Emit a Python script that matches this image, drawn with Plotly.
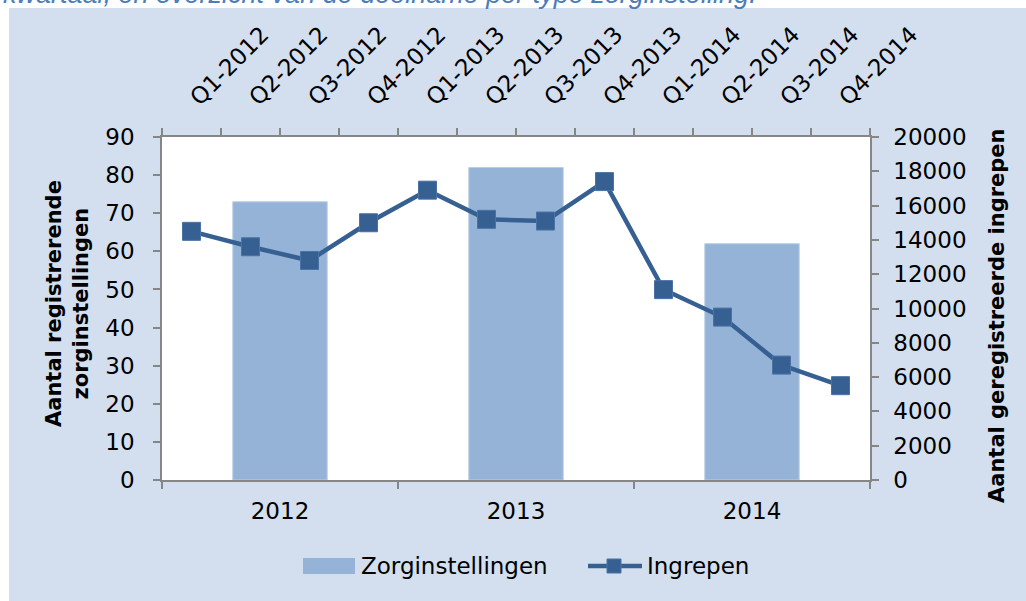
import plotly.graph_objects as go

years = ["2012", "2013", "2014"]
zorginstellingen = [73, 82, 62]

quarters = ["Q1-2012", "Q2-2012", "Q3-2012", "Q4-2012",
            "Q1-2013", "Q2-2013", "Q3-2013", "Q4-2013",
            "Q1-2014", "Q2-2014", "Q3-2014", "Q4-2014"]
ingrepen = [14500, 13600, 12800, 15000, 16900, 15200, 15100, 17400,
            11100, 9500, 6700, 5500]

left_ticks = list(range(0, 91, 10))
right_ticks = list(range(0, 20001, 2000))

FONT = "DejaVu Sans"
AX = "#868686"
PANEL = "#D3DFEE"
BAR = "#95B3D7"
LINE = "#376092"

# plot area in pixels: x 162..870, y 137..480 on a 1026x601 page
W, H = 1026, 601
L, R, T, B = 162, 870, 137, 480
pw, ph = R - L, B - T


def px(x):
    return (x - L) / pw


def py(y):
    return (B - y) / ph


fig = go.Figure()

fig.add_trace(go.Bar(
    x=years, y=zorginstellingen, name="Zorginstellingen",
    marker=dict(color=BAR, line=dict(color="#B9CDE5", width=1)),
    width=0.4, xaxis="x", yaxis="y", showlegend=False,
))

fig.add_trace(go.Scatter(
    x=quarters, y=ingrepen, name="Ingrepen", mode="lines+markers",
    line=dict(color=LINE, width=4.5),
    marker=dict(symbol="square", size=18, color=LINE,
                line=dict(color="#4A72A6", width=1)),
    xaxis="x2", yaxis="y2", showlegend=False,
))

tickfont = dict(family=FONT, size=23, color="#000000")
txtfont = dict(family=FONT, size=23, color="#000000")

# custom legend (wide bar swatch, line-with-marker swatch)
leg_y = 566
shapes = [
    dict(type="rect", xref="paper", yref="paper", layer="below",
         x0=px(9), x1=px(W + 20), y0=py(H + 20), y1=py(8),
         fillcolor=PANEL, line=dict(width=0)),
    dict(type="rect", xref="paper", yref="paper", layer="below",
         x0=0, x1=1, y0=0, y1=1,
         fillcolor="white", line=dict(width=0)),
    dict(type="rect", xref="paper", yref="paper",
         x0=px(303), x1=px(355), y0=py(leg_y + 8), y1=py(leg_y - 8),
         fillcolor=BAR, line=dict(width=0)),
    dict(type="line", xref="paper", yref="paper",
         x0=px(588), x1=px(642), y0=py(leg_y), y1=py(leg_y),
         line=dict(color=LINE, width=4.5)),
    dict(type="rect", xref="paper", yref="paper",
         x0=px(607), x1=px(621), y0=py(leg_y + 7), y1=py(leg_y - 7),
         fillcolor=LINE, line=dict(color="#4A72A6", width=1)),
]

fig.update_layout(
    width=W, height=H,
    margin=dict(l=L, r=W - R, t=T, b=H - B, pad=0),
    paper_bgcolor="white",
    plot_bgcolor="white",
    font=dict(family=FONT, size=23, color="#000000"),
    showlegend=False,
    bargap=0.6,
    xaxis=dict(
        type="category", categoryorder="array", categoryarray=years,
        range=[-0.5, 2.5], showline=True, linecolor=AX, linewidth=1.5,
        ticks="outside", ticklen=7, tickwidth=1.5, tickcolor=AX,
        tickson="boundaries", showgrid=False, zeroline=False,
        tickfont=tickfont, ticklabelstandoff=10,
    ),
    xaxis2=dict(
        type="category", categoryorder="array", categoryarray=quarters,
        overlaying="x", side="top", anchor="y2",
        range=[-0.5, 11.5], showline=True, linecolor=AX, linewidth=1.5,
        ticks="outside", ticklen=7, tickwidth=1.5, tickcolor=AX,
        tickson="boundaries", showgrid=False, zeroline=False,
        tickangle=-45, tickfont=tickfont, ticklabelstandoff=16,
    ),
    yaxis=dict(
        range=[0, 90], tickvals=left_ticks, showline=True, linecolor=AX,
        linewidth=1.5, ticks="outside", ticklen=7, tickwidth=1.5,
        tickcolor=AX, showgrid=False, zeroline=False, tickfont=tickfont,
        ticklabelstandoff=14,
    ),
    yaxis2=dict(
        range=[0, 20000], tickvals=right_ticks, tickformat="d",
        overlaying="y", side="right", anchor="x", showline=True,
        linecolor=AX, linewidth=1.5, ticks="outside", ticklen=7,
        tickwidth=1.5, tickcolor=AX, showgrid=False, zeroline=False,
        tickfont=tickfont, ticklabelstandoff=10,
    ),
    shapes=shapes,
    annotations=[
        dict(text="<i>kwartaal, en overzicht van de deelname per type zorginstelling.</i>",
             xref="paper", yref="paper", x=px(1), y=py(11),
             xanchor="left", yanchor="bottom", showarrow=False,
             font=dict(family="Liberation Sans", size=27, color="#4A7EBB")),
        dict(text="<b>Aantal registrerende<br>zorginstellingen</b>",
             xref="paper", yref="paper", x=px(67), y=py(303),
             xanchor="center", yanchor="middle", textangle=-90,
             showarrow=False,
             font=dict(family=FONT, size=21, color="#000000")),
        dict(text="<b>Aantal geregistreerde ingrepen</b>",
             xref="paper", yref="paper", x=px(997), y=py(316),
             xanchor="center", yanchor="middle", textangle=-90,
             showarrow=False,
             font=dict(family=FONT, size=21, color="#000000")),
        dict(text="Zorginstellingen", xref="paper", yref="paper",
             x=px(359), y=py(leg_y), xanchor="left", yanchor="middle",
             showarrow=False, font=txtfont),
        dict(text="Ingrepen", xref="paper", yref="paper",
             x=px(645), y=py(leg_y), xanchor="left", yanchor="middle",
             showarrow=False, font=txtfont),
    ],
)

fig.write_html("out.html",
               config={"displayModeBar": False},
               post_script="document.body.style.margin='0px';")
